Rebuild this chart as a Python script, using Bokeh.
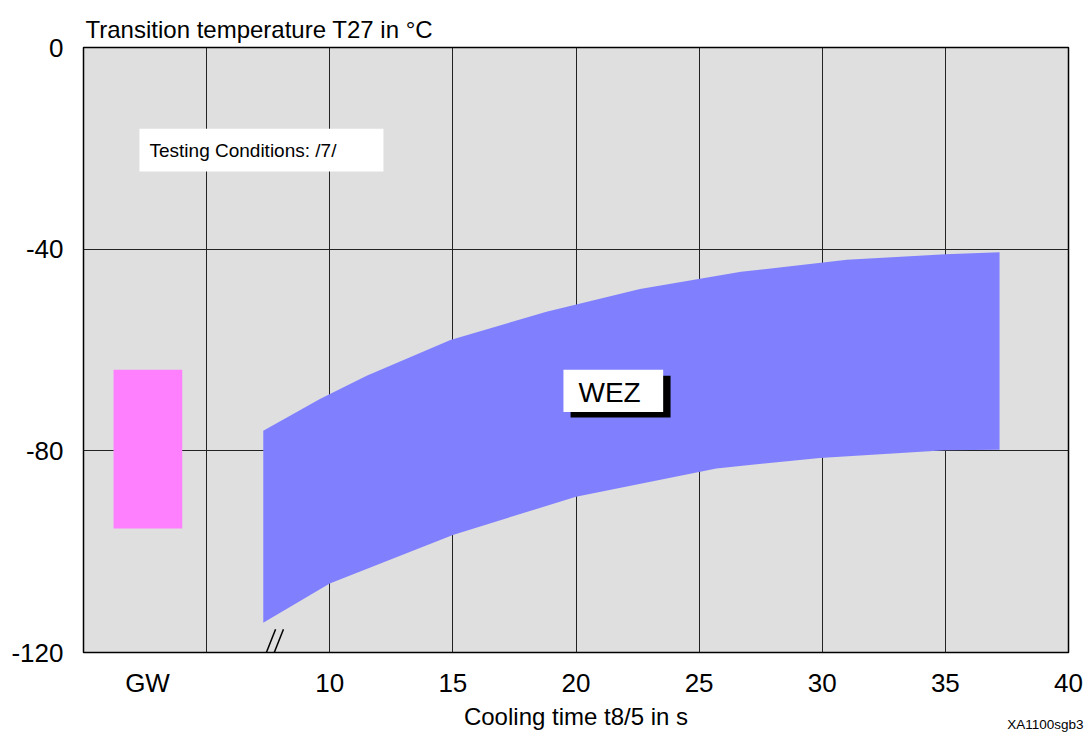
from bokeh.plotting import figure
from bokeh.models import Range1d, FixedTicker, Label, BoxAnnotation, Title
from bokeh.embed import file_html
from bokeh.resources import INLINE

# ---- data ----
upper_t = [7.3, 9.6, 11.5, 14.9, 18.8, 22.6, 26.7, 31.0, 35.0, 37.2]
upper_T = [-76.0, -69.7, -65.1, -58.0, -52.4, -47.9, -44.5, -42.1, -41.0, -40.6]
lower_t = [7.3, 10.0, 15.0, 20.0, 25.7, 29.9, 35.0, 37.2]
lower_T = [-114.1, -106.3, -96.7, -89.1, -83.5, -81.4, -79.9, -79.8]
gw_t = [1.22, 4.01]
gw_T = [-95.4, -63.9]
x_ticks = [2.6, 10, 15, 20, 25, 30, 35, 40]
x_tick_labels = ["GW", "10", "15", "20", "25", "30", "35", "40"]
y_ticks = [-120, -80, -40, 0]
y_tick_labels = ["-120", "-80", "-40", "0"]
x_grid = [0, 5, 10, 15, 20, 25, 30, 35, 40]

FONT = "Liberation Sans"

p = figure(width=1084, height=733, x_range=Range1d(0, 40), y_range=Range1d(-120, 0),
           output_backend="svg", toolbar_location=None,
           min_border_left=83, min_border_right=16, min_border_top=47, min_border_bottom=81)
p.background_fill_color = "#dfdfdf"
p.border_fill_color = "white"
p.outline_line_color = "black"
p.outline_line_width = 1.5

# title
p.title.text = "Transition temperature T27 in °C"
p.title.align = "left"
p.title.offset = 2
p.title.text_font = FONT
p.title.text_font_style = "normal"
p.title.text_font_size = "24px"
p.title.text_color = "black"
p.title.standoff = 9

# grid
p.xgrid.ticker = FixedTicker(ticks=x_grid)
p.ygrid.ticker = FixedTicker(ticks=y_ticks)
for g in (p.xgrid, p.ygrid):
    g.grid_line_color = "#222222"
    g.grid_line_width = 1
    g.grid_line_alpha = 1

# axes
p.xaxis.ticker = FixedTicker(ticks=x_ticks)
p.xaxis.major_label_overrides = {t: l for t, l in zip(x_ticks, x_tick_labels)}
p.yaxis.ticker = FixedTicker(ticks=y_ticks)
p.yaxis.major_label_overrides = {t: l for t, l in zip(y_ticks, y_tick_labels)}
for ax in (p.xaxis, p.yaxis):
    ax.axis_line_color = None
    ax.major_tick_line_color = None
    ax.minor_tick_line_color = None
    ax.major_tick_out = 0
    ax.major_tick_in = 0
    ax.minor_tick_out = 0
    ax.minor_tick_in = 0
    ax.major_label_text_font = FONT
    ax.major_label_text_font_style = "normal"
    ax.major_label_text_font_size = "26px"
    ax.major_label_text_color = "black"
p.xaxis.major_label_standoff = 15
p.yaxis.major_label_standoff = 20
p.xaxis.axis_label = "Cooling time t8/5 in s"
p.xaxis.axis_label_text_font = FONT
p.xaxis.axis_label_text_font_style = "normal"
p.xaxis.axis_label_text_font_size = "24px"
p.xaxis.axis_label_text_color = "black"
p.xaxis.axis_label_standoff = 2

# image code at bottom right
p.add_layout(Title(text="XA1100sgb3", align="right", offset=-15, text_font=FONT,
                   text_font_style="normal", text_color="black",
                   text_font_size="13.5px", standoff=-31, vertical_align="top"), "below")

# GW box
p.quad(left=gw_t[0], right=gw_t[1], bottom=gw_T[0], top=gw_T[1],
       fill_color="#ff80ff", line_color=None)

# WEZ band
band_x = upper_t + lower_t[::-1]
band_y = upper_T + lower_T[::-1]
p.patch(band_x, band_y, fill_color="#8080ff", line_color=None)

# Testing conditions box
p.add_layout(BoxAnnotation(left=2.27, right=12.18, top=-16.1, bottom=-24.6,
                           fill_color="white", fill_alpha=1, line_color=None))
p.add_layout(Label(x=2.68, y=-20.4, text="Testing Conditions: /7/", text_font=FONT,
                   text_color="black", text_font_size="19px",
                   text_baseline="middle", text_align="left"))

# WEZ label with shadow
p.add_layout(BoxAnnotation(left=19.78, right=23.84, top=-65.1, bottom=-73.4,
                           fill_color="black", fill_alpha=1, line_color=None))
p.add_layout(BoxAnnotation(left=19.49, right=23.54, top=-63.9, bottom=-72.3,
                           fill_color="white", fill_alpha=1, line_color=None))
p.add_layout(Label(x=20.1, y=-68.4, text="WEZ", text_font=FONT, text_color="black",
                   text_font_size="28px", text_baseline="middle", text_align="left"))

# axis break marks
p.segment(x0=[7.80, 8.12], y0=[-115.4, -115.4], x1=[7.03, 7.35], y1=[-124.9, -124.9],
          line_color="black", line_width=1.5)

open("out.html", "w").write(file_html(p, INLINE))
